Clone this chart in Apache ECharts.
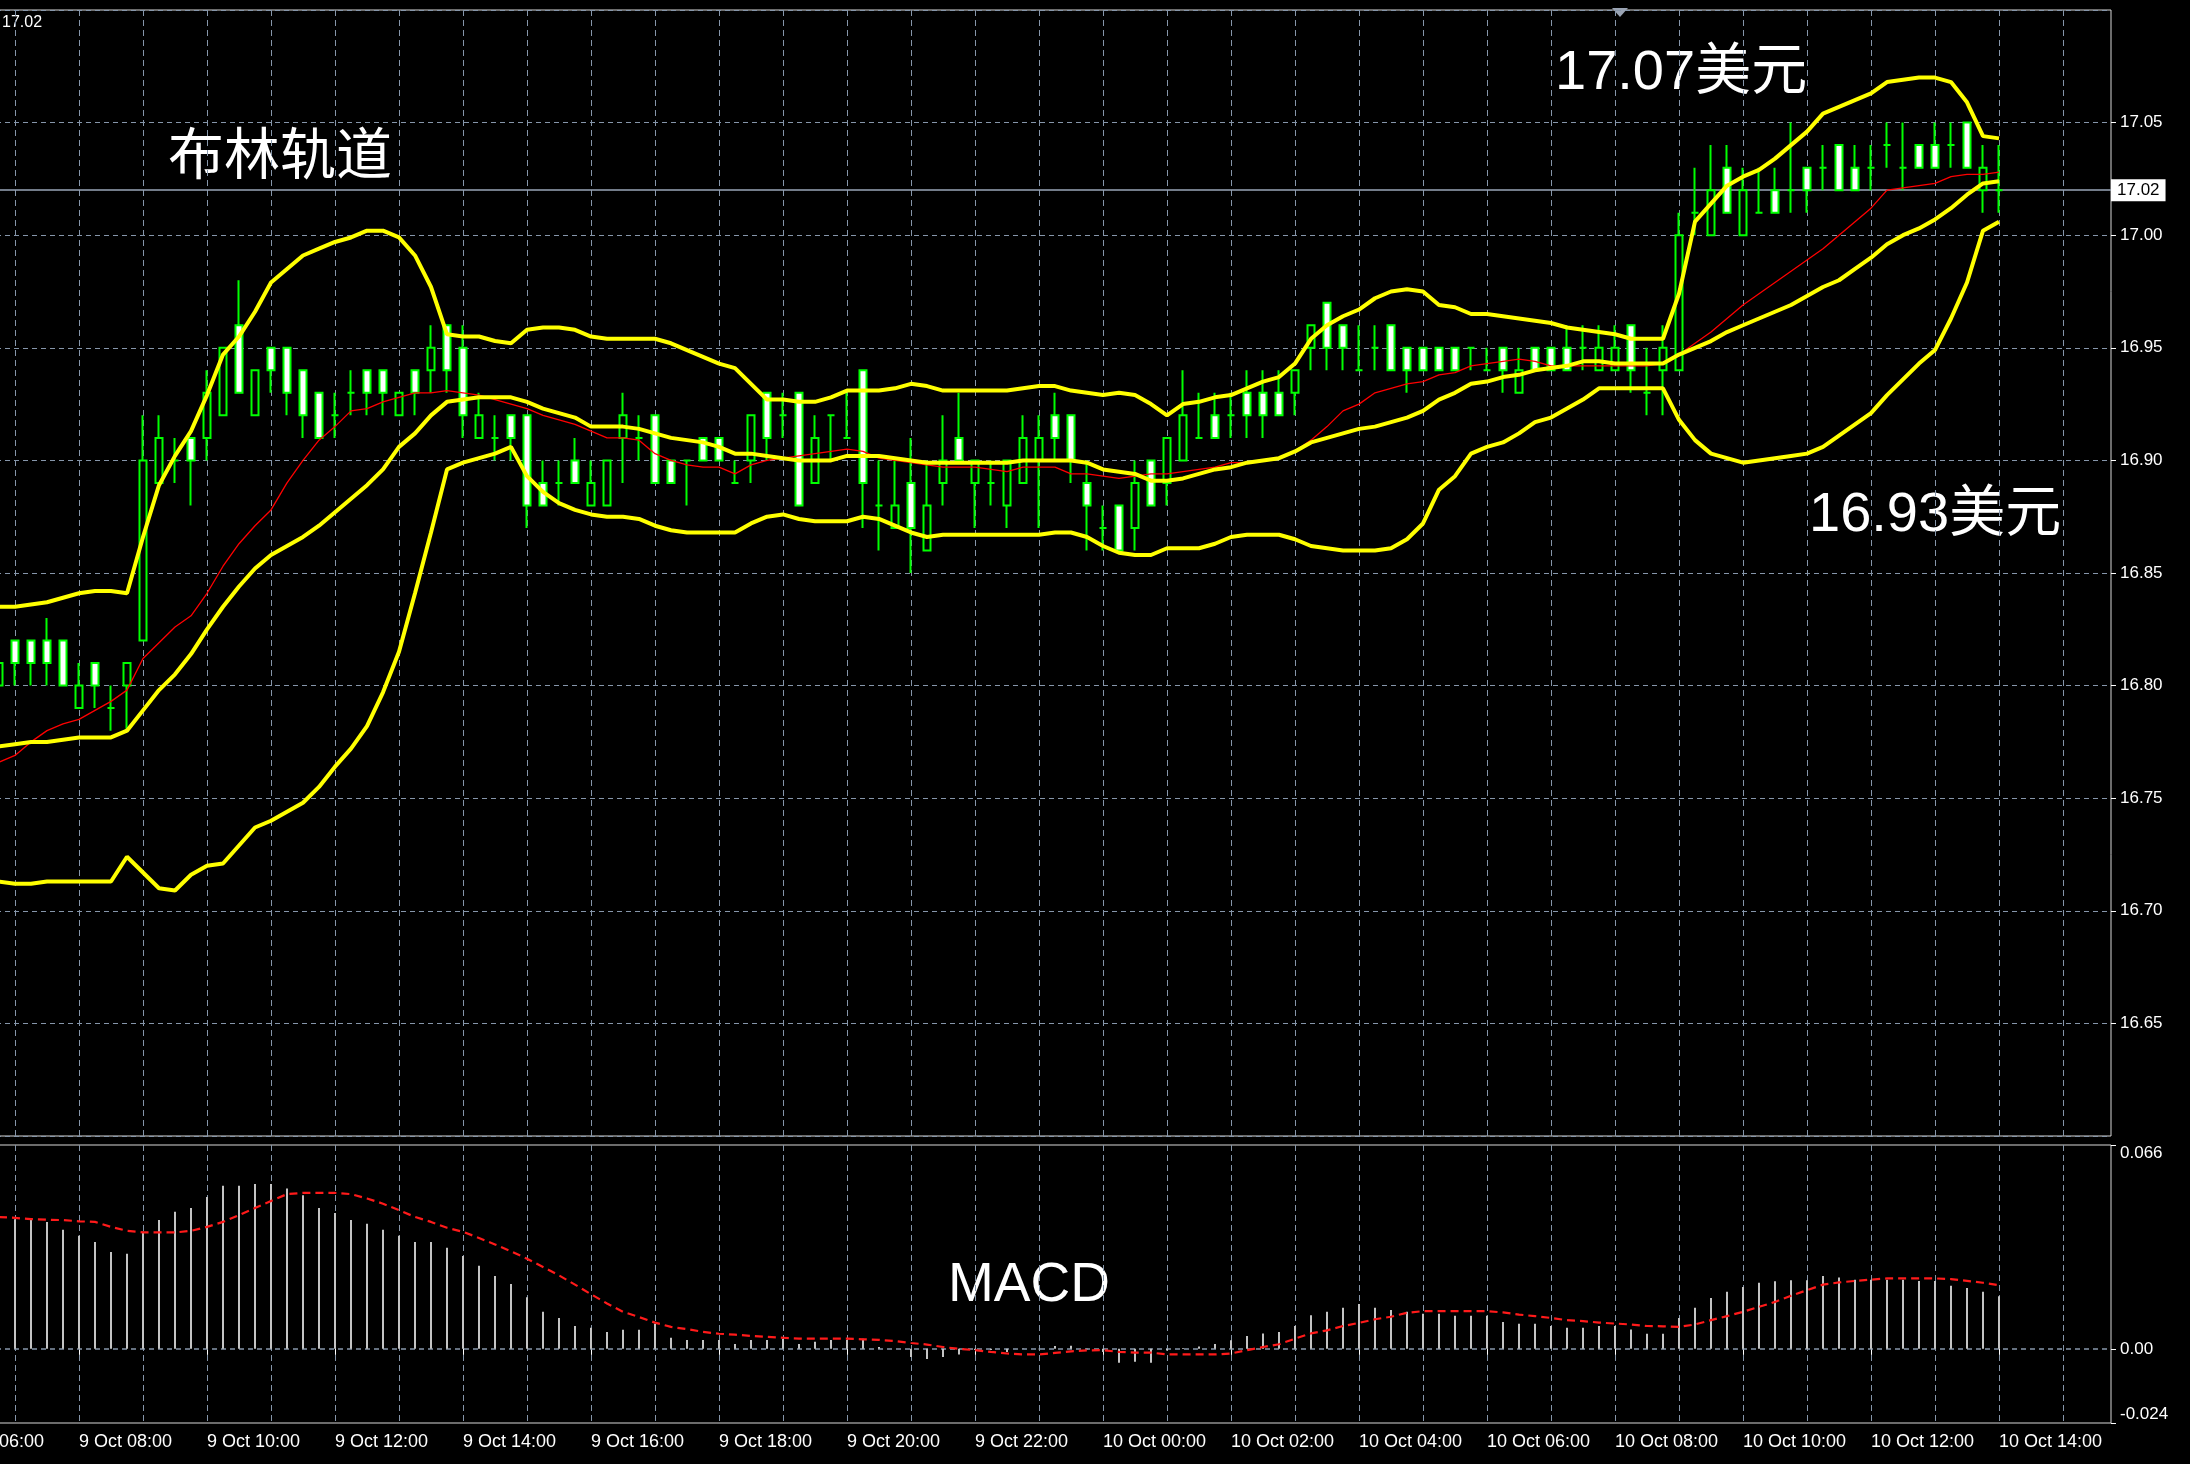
<!DOCTYPE html>
<html><head><meta charset="utf-8">
<script src="https://cdn.jsdelivr.net/npm/echarts@6/dist/echarts.min.js"></script>
<style>html,body{margin:0;padding:0;background:#000;}#c{width:2190px;height:1464px;}</style>
</head><body><div id="c"></div>
<script>
// ---- categories: 15-minute bars, 9 Oct 06:00 .. 10 Oct 15:45 ----
const categories = [];
for (let j = 0; j < 136; j++) {
  const t = 6 * 60 + 15 * j;
  const day = 9 + Math.floor(t / 1440);
  const m = t % 1440;
  categories.push(day + ' Oct ' + String(Math.floor(m / 60)).padStart(2, '0') + ':' + String(m % 60).padStart(2, '0'));
}
const LEAD = 3; // first visible bar = 9 Oct 06:45

const open = [16.80,16.82,16.82,16.82,16.82,16.79,16.81,16.79,16.80,16.82,16.89,16.90,16.91,16.91,16.92,16.96,16.92,16.95,16.95,16.94,16.93,16.92,16.93,16.94,16.94,16.92,16.94,16.94,16.96,16.95,16.91,16.91,16.92,16.92,16.89,16.89,16.90,16.88,16.88,16.91,16.91,16.92,16.90,16.90,16.91,16.91,16.89,16.90,16.93,16.92,16.93,16.89,16.92,16.91,16.94,16.88,16.87,16.89,16.86,16.89,16.91,16.89,16.89,16.88,16.89,16.90,16.92,16.92,16.89,16.87,16.88,16.87,16.90,16.89,16.90,16.91,16.92,16.92,16.93,16.93,16.93,16.93,16.95,16.97,16.96,16.94,16.95,16.96,16.95,16.95,16.95,16.95,16.95,16.94,16.95,16.93,16.95,16.95,16.95,16.95,16.94,16.94,16.96,16.93,16.94,16.94,17.01,17.00,17.03,17.00,17.01,17.02,17.02,17.03,17.03,17.04,17.03,17.03,17.04,17.03,17.04,17.04,17.04,17.05,17.02,17.02];
const close = [16.81,16.81,16.81,16.81,16.80,16.80,16.80,16.79,16.81,16.90,16.91,16.90,16.90,16.93,16.95,16.93,16.94,16.94,16.93,16.92,16.91,16.92,16.93,16.93,16.93,16.93,16.93,16.95,16.94,16.92,16.92,16.91,16.91,16.88,16.88,16.89,16.89,16.89,16.90,16.92,16.91,16.89,16.89,16.90,16.90,16.90,16.89,16.92,16.91,16.92,16.88,16.91,16.92,16.91,16.89,16.88,16.88,16.87,16.88,16.90,16.90,16.90,16.89,16.90,16.91,16.91,16.91,16.90,16.88,16.87,16.86,16.89,16.88,16.91,16.92,16.91,16.91,16.92,16.92,16.92,16.92,16.94,16.96,16.95,16.95,16.94,16.95,16.94,16.94,16.94,16.94,16.94,16.95,16.94,16.94,16.94,16.94,16.94,16.94,16.95,16.95,16.95,16.94,16.93,16.95,17.00,17.01,17.02,17.01,17.02,17.01,17.01,17.02,17.02,17.03,17.02,17.02,17.03,17.04,17.03,17.03,17.03,17.04,17.03,17.03,17.02];
const low = [16.80,16.80,16.80,16.80,16.80,16.79,16.79,16.78,16.78,16.82,16.89,16.89,16.88,16.90,16.92,16.93,16.92,16.93,16.92,16.91,16.91,16.91,16.92,16.92,16.92,16.92,16.92,16.93,16.93,16.91,16.91,16.90,16.90,16.87,16.88,16.88,16.89,16.88,16.88,16.89,16.90,16.89,16.89,16.88,16.90,16.90,16.89,16.89,16.90,16.91,16.88,16.89,16.90,16.91,16.87,16.86,16.87,16.85,16.86,16.88,16.90,16.87,16.88,16.87,16.89,16.87,16.90,16.89,16.86,16.86,16.86,16.86,16.88,16.88,16.90,16.91,16.91,16.91,16.91,16.91,16.92,16.92,16.94,16.94,16.94,16.94,16.94,16.94,16.93,16.94,16.94,16.94,16.94,16.94,16.93,16.93,16.94,16.94,16.94,16.94,16.94,16.94,16.93,16.92,16.92,16.94,17.00,17.00,17.01,17.00,17.01,17.01,17.01,17.01,17.02,17.02,17.02,17.02,17.03,17.02,17.03,17.03,17.03,17.03,17.01,17.01];
const high = [16.81,16.82,16.82,16.83,16.82,16.81,16.81,16.80,16.81,16.92,16.92,16.91,16.91,16.94,16.95,16.98,16.94,16.95,16.95,16.94,16.93,16.93,16.94,16.94,16.94,16.93,16.94,16.96,16.96,16.96,16.93,16.92,16.92,16.92,16.90,16.90,16.91,16.90,16.90,16.93,16.92,16.92,16.90,16.90,16.91,16.91,16.90,16.92,16.93,16.93,16.93,16.92,16.92,16.93,16.94,16.90,16.90,16.91,16.90,16.92,16.93,16.90,16.90,16.90,16.92,16.92,16.93,16.92,16.90,16.88,16.88,16.90,16.90,16.91,16.94,16.93,16.93,16.93,16.94,16.94,16.94,16.94,16.96,16.97,16.96,16.96,16.96,16.96,16.95,16.95,16.95,16.95,16.95,16.95,16.95,16.95,16.95,16.95,16.96,16.96,16.96,16.96,16.96,16.95,16.96,17.01,17.03,17.04,17.04,17.03,17.03,17.03,17.05,17.03,17.04,17.04,17.04,17.04,17.05,17.05,17.04,17.05,17.05,17.05,17.04,17.04];

const bbUpper = [16.835,16.835,16.836,16.837,16.839,16.841,16.842,16.842,16.841,16.866,16.889,16.902,16.913,16.929,16.947,16.955,16.966,16.979,16.985,16.991,16.994,16.997,16.999,17.002,17.002,16.999,16.991,16.977,16.956,16.955,16.955,16.953,16.952,16.958,16.959,16.959,16.958,16.955,16.954,16.954,16.954,16.954,16.952,16.949,16.946,16.943,16.941,16.934,16.927,16.927,16.926,16.926,16.928,16.931,16.931,16.931,16.932,16.934,16.933,16.931,16.931,16.931,16.931,16.931,16.932,16.933,16.933,16.931,16.930,16.929,16.930,16.929,16.925,16.920,16.925,16.926,16.928,16.929,16.932,16.935,16.937,16.943,16.954,16.960,16.964,16.967,16.972,16.975,16.976,16.975,16.969,16.968,16.965,16.965,16.964,16.963,16.962,16.961,16.959,16.958,16.957,16.956,16.954,16.954,16.954,16.974,17.006,17.014,17.022,17.026,17.029,17.034,17.040,17.046,17.054,17.057,17.060,17.063,17.068,17.069,17.070,17.070,17.068,17.059,17.044,17.043];
const bbMiddle = [16.773,16.774,16.775,16.775,16.776,16.777,16.777,16.777,16.780,16.789,16.798,16.805,16.814,16.825,16.835,16.844,16.852,16.858,16.862,16.866,16.871,16.877,16.883,16.889,16.896,16.906,16.912,16.920,16.926,16.927,16.928,16.928,16.928,16.926,16.923,16.921,16.919,16.915,16.915,16.915,16.914,16.912,16.910,16.909,16.908,16.906,16.903,16.903,16.902,16.901,16.900,16.900,16.900,16.902,16.902,16.902,16.901,16.900,16.899,16.899,16.899,16.899,16.899,16.899,16.900,16.900,16.900,16.900,16.899,16.896,16.895,16.894,16.891,16.891,16.892,16.894,16.896,16.897,16.899,16.900,16.901,16.904,16.908,16.910,16.912,16.914,16.915,16.917,16.919,16.922,16.927,16.930,16.934,16.935,16.937,16.938,16.940,16.941,16.942,16.944,16.944,16.943,16.943,16.943,16.943,16.947,16.950,16.953,16.957,16.960,16.963,16.966,16.969,16.973,16.977,16.980,16.985,16.990,16.996,17.000,17.003,17.007,17.012,17.018,17.023,17.024];
const bbLower = [16.713,16.712,16.712,16.713,16.713,16.713,16.713,16.713,16.724,16.717,16.710,16.709,16.716,16.720,16.721,16.729,16.737,16.740,16.744,16.748,16.755,16.764,16.772,16.782,16.797,16.815,16.841,16.868,16.896,16.899,16.901,16.903,16.906,16.893,16.886,16.881,16.878,16.876,16.875,16.875,16.874,16.871,16.869,16.868,16.868,16.868,16.868,16.872,16.875,16.876,16.874,16.873,16.873,16.873,16.875,16.874,16.871,16.868,16.866,16.867,16.867,16.867,16.867,16.867,16.867,16.867,16.868,16.868,16.866,16.862,16.859,16.858,16.858,16.861,16.861,16.861,16.863,16.866,16.867,16.867,16.867,16.865,16.862,16.861,16.860,16.860,16.860,16.861,16.865,16.872,16.887,16.893,16.903,16.906,16.908,16.912,16.917,16.919,16.923,16.927,16.932,16.932,16.932,16.932,16.932,16.918,16.909,16.903,16.901,16.899,16.900,16.901,16.902,16.903,16.906,16.911,16.916,16.921,16.929,16.936,16.943,16.949,16.963,16.979,17.002,17.006];
const redMA = [16.766,16.769,16.775,16.780,16.783,16.785,16.789,16.793,16.798,16.812,16.819,16.826,16.831,16.841,16.853,16.863,16.871,16.878,16.890,16.900,16.909,16.915,16.922,16.923,16.926,16.928,16.930,16.930,16.931,16.930,16.929,16.927,16.925,16.923,16.920,16.918,16.916,16.913,16.910,16.910,16.909,16.903,16.900,16.898,16.897,16.897,16.894,16.898,16.900,16.901,16.902,16.903,16.904,16.905,16.904,16.901,16.900,16.899,16.898,16.897,16.897,16.897,16.896,16.895,16.897,16.897,16.897,16.894,16.894,16.893,16.892,16.893,16.894,16.894,16.895,16.896,16.897,16.899,16.899,16.900,16.901,16.904,16.909,16.915,16.922,16.925,16.930,16.932,16.934,16.935,16.938,16.939,16.942,16.943,16.944,16.945,16.944,16.942,16.942,16.942,16.942,16.942,16.942,16.942,16.943,16.947,16.952,16.957,16.963,16.969,16.974,16.979,16.984,16.989,16.994,17.000,17.006,17.012,17.020,17.021,17.022,17.023,17.026,17.027,17.027,17.028];

const macdHist = [0.0427,0.0420,0.0420,0.0411,0.0386,0.0366,0.0346,0.0314,0.0308,0.0379,0.0417,0.0444,0.0456,0.0492,0.0528,0.0528,0.0534,0.0534,0.0519,0.0497,0.0456,0.0440,0.0417,0.0405,0.0386,0.0366,0.0346,0.0346,0.0327,0.0301,0.0269,0.0236,0.0210,0.0167,0.0120,0.0100,0.0074,0.0068,0.0055,0.0062,0.0062,0.0081,0.0036,0.0029,0.0029,0.0029,0.0016,0.0029,0.0029,0.0033,0.0016,0.0023,0.0029,0.0029,0.0033,0.0006,0.0000,-0.0026,-0.0033,-0.0026,-0.0018,-0.0004,-0.0004,-0.0010,0.0001,-0.0001,0.0009,0.0010,-0.0001,-0.0010,-0.0045,-0.0042,-0.0045,-0.0005,0.0003,0.0008,0.0016,0.0028,0.0042,0.0050,0.0055,0.0074,0.0109,0.0120,0.0133,0.0145,0.0133,0.0126,0.0120,0.0114,0.0114,0.0107,0.0107,0.0107,0.0087,0.0081,0.0081,0.0074,0.0068,0.0068,0.0074,0.0074,0.0063,0.0049,0.0049,0.0100,0.0133,0.0165,0.0185,0.0200,0.0214,0.0219,0.0222,0.0222,0.0236,0.0231,0.0224,0.0224,0.0224,0.0224,0.0220,0.0220,0.0204,0.0197,0.0185,0.0170];
const macdSignal = [0.0427,0.0424,0.0420,0.0418,0.0417,0.0413,0.0411,0.0395,0.0382,0.0377,0.0377,0.0377,0.0382,0.0395,0.0411,0.0433,0.0456,0.0479,0.0501,0.0505,0.0505,0.0505,0.0501,0.0487,0.0470,0.0449,0.0427,0.0411,0.0392,0.0379,0.0359,0.0338,0.0316,0.0292,0.0265,0.0238,0.0208,0.0177,0.0147,0.0120,0.0103,0.0085,0.0071,0.0064,0.0055,0.0049,0.0046,0.0042,0.0039,0.0036,0.0033,0.0033,0.0033,0.0033,0.0031,0.0029,0.0025,0.0019,0.0014,0.0006,0.0000,-0.0004,-0.0010,-0.0015,-0.0018,-0.0018,-0.0013,-0.0008,-0.0005,-0.0004,-0.0010,-0.0012,-0.0012,-0.0018,-0.0018,-0.0018,-0.0018,-0.0015,-0.0004,0.0006,0.0015,0.0033,0.0050,0.0060,0.0074,0.0084,0.0096,0.0104,0.0117,0.0122,0.0122,0.0122,0.0122,0.0122,0.0118,0.0111,0.0106,0.0100,0.0093,0.0090,0.0085,0.0082,0.0079,0.0074,0.0073,0.0071,0.0079,0.0093,0.0106,0.0120,0.0136,0.0152,0.0172,0.0190,0.0208,0.0215,0.0220,0.0224,0.0228,0.0228,0.0228,0.0228,0.0226,0.0220,0.0214,0.0206];

const priceTicks = { min: 16.60, max: 17.10, step: 0.05 };
const macdTicks = [-0.024, 0, 0.066];
const bidPrice = 17.02;

// ---- build aligned series ----
const pad = arr => categories.map((_, j) => { const k = j - LEAD; return (k >= 0 && k < arr.length) ? arr[k] : '-'; });
const candleData = categories.map((_, j) => { const k = j - LEAD; return (k >= 0 && k < open.length) ? [open[k], close[k], low[k], high[k]] : ['-','-','-','-']; });

const GRID_COLOR = '#8696aa';
const AXIS_FONT = "'Liberation Sans', Arial, sans-serif";
const hourly = (i) => i % 4 === 0;
const twoHourly = (i) => i % 8 === 0;

const chart = echarts.init(document.getElementById('c'), null, { renderer: 'canvas' });
chart.setOption({
  backgroundColor: '#000000',
  animation: false,
  grid: [
    { left: -49, width: 2160, top: 10, height: 1126, outerBoundsMode: 'none', containLabel: false, show: true, borderColor: '#d8d8d8', borderWidth: 1 },
    { left: -49, width: 2160, top: 1145, height: 278, outerBoundsMode: 'none', containLabel: false, show: true, borderColor: '#d8d8d8', borderWidth: 1 }
  ],
  xAxis: [
    { type: 'category', gridIndex: 0, data: categories, boundaryGap: false,
      axisLine: { show: false }, axisTick: { show: false }, axisLabel: { show: false },
      splitLine: { show: true, interval: hourly, lineStyle: { color: GRID_COLOR, type: [6, 4], width: 1 } } },
    { type: 'category', gridIndex: 1, data: categories, boundaryGap: false,
      axisLine: { show: false },
      axisTick: { show: true, interval: twoHourly, length: 6, lineStyle: { color: '#ffffff' } },
      axisLabel: { show: true, interval: twoHourly, align: 'left', color: '#ffffff', fontSize: 18, fontFamily: AXIS_FONT, margin: 10, hideOverlap: false },
      splitLine: { show: true, interval: hourly, lineStyle: { color: GRID_COLOR, type: [6, 4], width: 1 } } }
  ],
  yAxis: [
    { type: 'value', gridIndex: 0, position: 'right', min: priceTicks.min, max: priceTicks.max, interval: priceTicks.step,
      axisLine: { show: false },
      axisTick: { show: true, length: 5, lineStyle: { color: '#ffffff' } },
      axisLabel: { color: '#ffffff', fontSize: 17, fontFamily: AXIS_FONT, margin: 9, showMinLabel: false, showMaxLabel: false,
        formatter: v => v.toFixed(2) },
      splitLine: { show: true, lineStyle: { color: GRID_COLOR, type: [5, 4], width: 1 } } },
    { type: 'value', gridIndex: 1, position: 'right', min: -0.024, max: 0.066,
      axisLine: { show: false },
      axisTick: { show: true, length: 5, customValues: macdTicks, lineStyle: { color: '#ffffff' } },
      axisLabel: { color: '#ffffff', fontSize: 17, fontFamily: AXIS_FONT, margin: 9, customValues: macdTicks,
        verticalAlignMaxLabel: 'top', verticalAlignMinLabel: 'bottom',
        formatter: v => (v === 0 ? '0.00' : String(v)) },
      splitLine: { show: false } }
  ],
  series: [
    { type: 'candlestick', xAxisIndex: 0, yAxisIndex: 0, data: candleData, barWidth: 8, z: 3,
      itemStyle: { color: '#000000', color0: '#ffffff', borderColor: '#00ff00', borderColor0: '#00ff00', borderColorDoji: '#00ff00', borderWidth: 2 },
      markLine: { silent: true, symbol: 'none', z: 1,
        lineStyle: { color: '#9aa6b8', type: 'solid', width: 1.5 },
        label: { show: true, position: 'end', distance: 0, formatter: bidPrice.toFixed(2), backgroundColor: '#ffffff', color: '#000000',
          fontSize: 17, fontFamily: AXIS_FONT, padding: [3, 6, 2, 6] },
        data: [{ yAxis: bidPrice }] } },
    { type: 'line', name: 'red', xAxisIndex: 0, yAxisIndex: 0, data: pad(redMA), showSymbol: false, z: 4,
      lineStyle: { color: '#ff0000', width: 1.3 } },
    { type: 'line', name: 'upper', xAxisIndex: 0, yAxisIndex: 0, data: pad(bbUpper), showSymbol: false, z: 5,
      lineStyle: { color: '#ffff00', width: 4 } },
    { type: 'line', name: 'middle', xAxisIndex: 0, yAxisIndex: 0, data: pad(bbMiddle), showSymbol: false, z: 5,
      lineStyle: { color: '#ffff00', width: 4 } },
    { type: 'line', name: 'lower', xAxisIndex: 0, yAxisIndex: 0, data: pad(bbLower), showSymbol: false, z: 5,
      lineStyle: { color: '#ffff00', width: 4 } },
    { type: 'bar', xAxisIndex: 1, yAxisIndex: 1, data: pad(macdHist), barWidth: 2, z: 3,
      itemStyle: { color: '#c4c4c4' },
      markLine: { silent: true, symbol: 'none', z: 1, label: { show: false },
        lineStyle: { color: GRID_COLOR, type: [5, 4], width: 1.5 }, data: [{ yAxis: 0 }] } },
    { type: 'line', xAxisIndex: 1, yAxisIndex: 1, data: pad(macdSignal), showSymbol: false, z: 4,
      lineStyle: { color: '#ff1a1a', width: 2.2, type: [8, 5] } }
  ],
  graphic: [
    { type: 'text', x: 2, y: 23, style: { text: '17.02', fill: '#ffffff', fontSize: 16, fontFamily: AXIS_FONT, verticalAlign: 'middle' } },
    { type: 'polygon', shape: { points: [[1612, 8], [1628, 8], [1620, 17]] }, style: { fill: '#9aa4b4' } },
    { type: 'text', x: 168, y: 153, style: { text: '布林轨道', fill: '#ffffff', fontSize: 56, fontFamily: "'Noto Sans CJK SC', sans-serif", verticalAlign: 'middle' } },
    { type: 'text', x: 1555, y: 74, style: { text: '17.07美元', fill: '#ffffff', fontSize: 56, fontFamily: "'Liberation Sans', 'Noto Sans CJK SC', sans-serif", verticalAlign: 'middle' } },
    { type: 'text', x: 1809, y: 516, style: { text: '16.93美元', fill: '#ffffff', fontSize: 56, fontFamily: "'Liberation Sans', 'Noto Sans CJK SC', sans-serif", verticalAlign: 'middle' } },
    { type: 'text', x: 948, y: 1286, style: { text: 'MACD', fill: '#ffffff', fontSize: 55, fontFamily: "'Liberation Sans', sans-serif", verticalAlign: 'middle' } }
  ]
});
</script>
</body></html>
